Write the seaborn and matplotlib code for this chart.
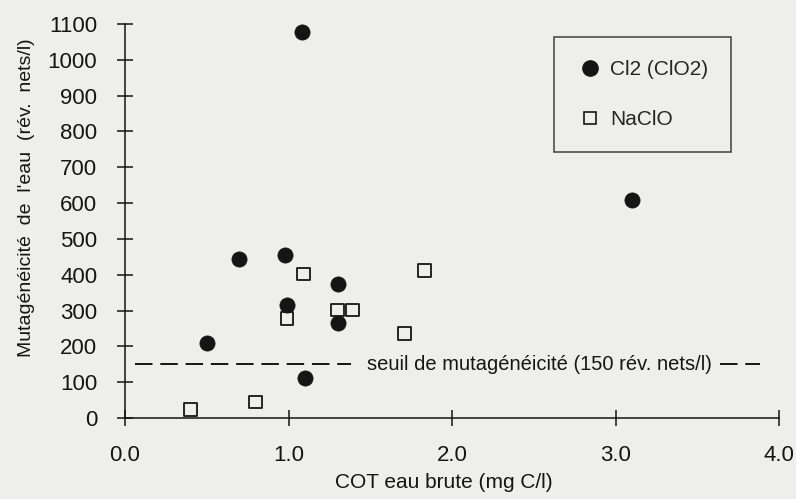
import numpy as np
import pandas as pd
import matplotlib
matplotlib.use("Agg")
import matplotlib.pyplot as plt
from matplotlib.lines import Line2D
import seaborn as sns

# values
cl2_cot = [1.08, 3.10, 0.70, 0.98, 0.99, 1.30, 1.30, 0.50, 1.10]
cl2_mut = [1078, 609, 444, 455, 316, 374, 265, 209, 112]
naclo_cot = [1.09, 0.99, 1.30, 1.39, 0.40, 0.80, 1.83, 1.71]
naclo_mut = [402, 277, 302, 302, 25, 45, 413, 237]
seuil = 150
x_ticks = [0.0, 1.0, 2.0, 3.0, 4.0]
y_ticks = list(range(0, 1101, 100))

df = pd.concat([
    pd.DataFrame({"cot": cl2_cot, "mut": cl2_mut, "type": "Cl2 (ClO2)"}),
    pd.DataFrame({"cot": naclo_cot, "mut": naclo_mut, "type": "NaClO"}),
])

sns.set_style("white")
bg = "#eeeeec"
ink = "#151515"
plt.rcParams["font.family"] = ["Liberation Sans", "DejaVu Sans"]

fig = plt.figure(figsize=(7.96, 4.99), dpi=100, facecolor=bg)
ax = fig.add_axes([0.157, 0.162, 0.822, 0.790])
ax.set_facecolor(bg)

sns.scatterplot(data=df[df["type"] == "Cl2 (ClO2)"], x="cot", y="mut", marker="o",
                s=120, color=ink, edgecolor=ink, linewidth=0.5,
                ax=ax, clip_on=False, zorder=3, legend=False)
sns.scatterplot(data=df[df["type"] == "NaClO"], x="cot", y="mut", marker="s",
                s=85, facecolor="none", edgecolor=ink, linewidth=1.3,
                ax=ax, clip_on=False, zorder=3, legend=False)

# seuil line, broken by its label
ax.plot([0.06, 1.38], [seuil, seuil], color=ink, lw=1.4, dashes=(9, 4))
ax.plot([3.64, 3.88], [seuil, seuil], color=ink, lw=1.4, dashes=(9, 4))
ax.text(1.48, seuil, "seuil de mutagénéicité (150 rév. nets/l)", fontsize=14.5,
        va="center", ha="left", color=ink)

ax.set_xlim(0, 4.0)
ax.set_ylim(0, 1100)
ax.set_xticks(x_ticks)
ax.set_xticklabels([f"{v:.1f}" for v in x_ticks])
ax.set_yticks(y_ticks)
ax.tick_params(axis="both", direction="inout", length=12, width=1.1,
               labelsize=16, colors=ink, bottom=True, left=True)
ax.tick_params(axis="x", pad=13)
ax.tick_params(axis="y", pad=14)
for side in ["top", "right"]:
    ax.spines[side].set_visible(False)
for side in ["left", "bottom"]:
    ax.spines[side].set_color(ink)
    ax.spines[side].set_linewidth(1.1)

ax.set_xlabel("COT eau brute (mg C/l)", fontsize=15, color=ink)
ax.set_ylabel("Mutagénéicité  de  l'eau  (rév.  nets/l)", fontsize=14, color=ink)
ax.xaxis.set_label_coords(0.488, -0.14)
ax.yaxis.set_label_coords(-0.138, 0.56)

handles = [
    Line2D([], [], marker="o", ls="", color=ink, markersize=11),
    Line2D([], [], marker="s", ls="", markerfacecolor="none",
           markeredgecolor=ink, markeredgewidth=1.2, markersize=8),
]
leg = ax.legend(handles, ["Cl2 (ClO2)", "NaClO"], loc="upper left",
                bbox_to_anchor=(0.656, 0.967), fontsize=15, frameon=True,
                fancybox=False, borderpad=1.1, labelspacing=1.5,
                handletextpad=0.4, handlelength=1.2, borderaxespad=0)
leg.get_frame().set_edgecolor(ink)
leg.get_frame().set_linewidth(1.1)
leg.get_frame().set_facecolor(bg)

fig.savefig("out.png", dpi=100, facecolor=bg)
